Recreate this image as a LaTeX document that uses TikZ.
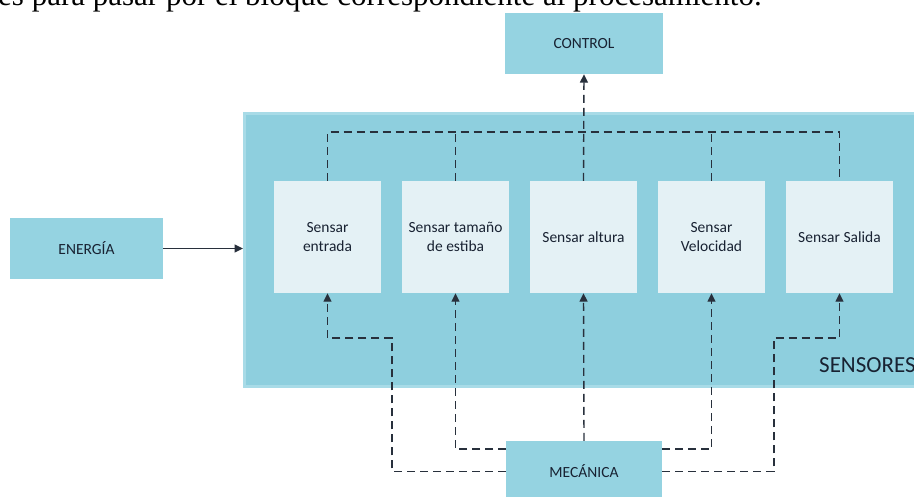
\documentclass[tikz,border=0pt]{standalone}
\usepackage{fontspec}
\setmainfont{Carlito}
\newfontfamily\bodyserif{Liberation Serif}
\usetikzlibrary{arrows.meta}

\definecolor{panel}{RGB}{142,207,222}
\definecolor{panelrim}{RGB}{168,219,231}
\definecolor{blockfill}{RGB}{149,211,225}
\definecolor{cellfill}{RGB}{228,241,245}
\definecolor{ink}{RGB}{24,34,50}
\definecolor{wire}{RGB}{40,48,60}

\tikzset{
  block/.style={fill=blockfill, draw=none, inner sep=0pt, text=ink,
    font=\fontsize{15.5}{19}\selectfont, align=center,
    minimum width=#1, minimum height=61pt},
  cell/.style={fill=cellfill, draw=none, inner sep=0pt, text=ink,
    font=\fontsize{15.5}{19.5}\selectfont, align=center,
    minimum width=107pt, minimum height=112pt},
  dashwire/.style={draw=wire, line width=1.4pt, dash pattern=on 8pt off 5pt},
  tip/.style={-{Triangle[length=8.5pt,width=8pt]}},
}

\begin{document}
\begin{tikzpicture}[x=1pt,y=-1pt]
  \useasboundingbox (0,0) rectangle (914,496);
  \clip (0,0) rectangle (914,496);
  \fill[white] (0,0) rectangle (914,496);

  % running text line of the page above the figure
  \node[anchor=base west, inner sep=0pt, text=black,
        font=\bodyserif\fontsize{31}{31}\selectfont] (bodyline) at (-2,5)
        {es para pasar por el bloque correspondiente al procesamiento.};

  % sensor panel
  \node[fill=panel, draw=panelrim, line width=3pt, inner sep=0pt,
        minimum width=690pt, minimum height=273pt,
        anchor=north west] (panel) at (243,112) {};
  \node[anchor=west, inner sep=0pt, text=ink,
        font=\fontsize{23}{26}\selectfont] (paneltitle) at (819,365) {SENSORES};

  % sensor cells
  \node[cell] (s1) at (327.5,237) {Sensar\\entrada};
  \node[cell] (s2) at (455.5,237) {Sensar tamaño\\de estiba};
  \node[cell] (s3) at (583.5,237) {Sensar altura};
  \node[cell] (s4) at (711.5,237) {Sensar\\Velocidad};
  \node[cell] (s5) at (839.5,237) {Sensar Salida};

  % outer blocks
  \node[block=158pt] (ctrl) at (584,43.5) {CONTROL};
  \node[block=153pt] (energy) at (86.5,248.5) {ENERGÍA};
  \node[block=156pt] (mech) at (584,471.5) {MECÁNICA};

  % helper points of the wiring
  \coordinate (bus) at (0,132);
  \coordinate (jl) at (392,338);
  \coordinate (jr) at (774,338);
  \coordinate (ml) at (506,449);
  \coordinate (mr) at (662,449);

  % energy feed
  \draw[wire, line width=1.5pt, tip] (energy.east) -- (energy.east -| panel.west);

  % collection bus towards control
  \draw[dashwire] (s1.north) |- (s5.north |- bus) -- (s5.north);
  \draw[dashwire] (s2.north) -- (s2.north |- bus);
  \draw[dashwire] (s4.north) -- (s4.north |- bus);
  \draw[dashwire, tip] (s3.north) -- (ctrl.south);

  % mechanical links to each sensor
  \draw[dashwire, tip] (mech.north) -- (s3.south);
  \draw[dashwire, tip] (ml) -| (s2.south);
  \draw[dashwire, tip] (mr) -| (s4.south);
  \draw[dashwire, tip] (mech.west) -| (jl) -| (s1.south);
  \draw[dashwire, tip] (mech.east) -| (jr) -| (s5.south);
\end{tikzpicture}
\end{document}
